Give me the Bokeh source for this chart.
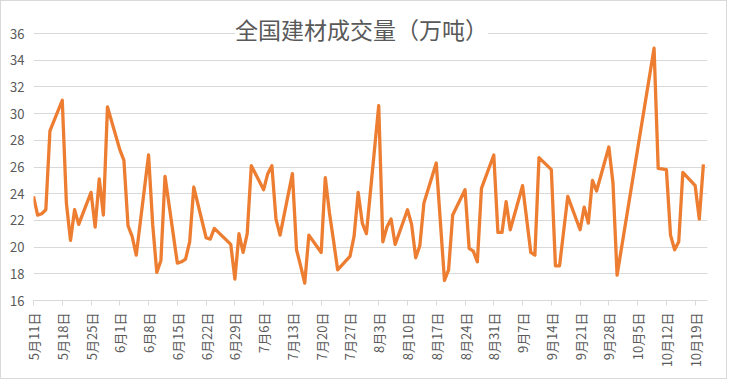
import pandas as pd
from bokeh.plotting import figure
from bokeh.models import (Range1d, FixedTicker, CustomJSTickFormatter, Label,
                          ColumnDataSource)
from bokeh.embed import file_html
from bokeh.resources import INLINE

title_text = "全国建材成交量（万吨）"

dates = [
    "2020-05-11", "2020-05-12", "2020-05-13", "2020-05-14", "2020-05-15",
    "2020-05-18", "2020-05-19", "2020-05-20", "2020-05-21", "2020-05-22",
    "2020-05-25", "2020-05-26", "2020-05-27", "2020-05-28", "2020-05-29",
    "2020-06-01", "2020-06-02", "2020-06-03", "2020-06-04", "2020-06-05",
    "2020-06-08", "2020-06-09", "2020-06-10", "2020-06-11", "2020-06-12",
    "2020-06-15", "2020-06-16", "2020-06-17", "2020-06-18", "2020-06-19",
    "2020-06-22", "2020-06-23", "2020-06-24", "2020-06-28",
    "2020-06-29", "2020-06-30", "2020-07-01", "2020-07-02", "2020-07-03",
    "2020-07-06", "2020-07-07", "2020-07-08", "2020-07-09", "2020-07-10",
    "2020-07-13", "2020-07-14", "2020-07-15", "2020-07-16", "2020-07-17",
    "2020-07-20", "2020-07-21", "2020-07-22", "2020-07-23", "2020-07-24",
    "2020-07-27", "2020-07-28", "2020-07-29", "2020-07-30", "2020-07-31",
    "2020-08-03", "2020-08-04", "2020-08-05", "2020-08-06", "2020-08-07",
    "2020-08-10", "2020-08-11", "2020-08-12", "2020-08-13", "2020-08-14",
    "2020-08-17", "2020-08-18", "2020-08-19", "2020-08-20", "2020-08-21",
    "2020-08-24", "2020-08-25", "2020-08-26", "2020-08-27", "2020-08-28",
    "2020-08-31", "2020-09-01", "2020-09-02", "2020-09-03", "2020-09-04",
    "2020-09-07", "2020-09-08", "2020-09-09", "2020-09-10", "2020-09-11",
    "2020-09-14", "2020-09-15", "2020-09-16", "2020-09-17", "2020-09-18",
    "2020-09-21", "2020-09-22", "2020-09-23", "2020-09-24", "2020-09-25",
    "2020-09-28", "2020-09-29", "2020-09-30",
    "2020-10-09", "2020-10-10",
    "2020-10-12", "2020-10-13", "2020-10-14", "2020-10-15", "2020-10-16",
    "2020-10-19", "2020-10-20", "2020-10-21",
]

values = [
    23.8, 22.4, 22.5, 22.8, 28.7,
    31.0, 23.3, 20.5, 22.8, 21.7,
    24.1, 21.5, 25.1, 22.4, 30.5,
    27.3, 26.5, 21.6, 20.8, 19.4,
    26.9, 21.7, 18.1, 19.0, 25.3,
    18.8, 18.9, 19.1, 20.4, 24.5,
    20.7, 20.6, 21.4, 20.2,
    17.6, 21.0, 19.6, 21.0, 26.1,
    24.3, 25.5, 26.1, 22.1, 20.9,
    25.5, 19.8, 18.6, 17.3, 20.9,
    19.6, 25.2, 22.6, 20.5, 18.3,
    19.3, 20.8, 24.1, 21.8, 21.0,
    30.6, 20.4, 21.5, 22.1, 20.2,
    22.8, 21.7, 19.2, 20.1, 23.3,
    26.3, 21.9, 17.5, 18.3, 22.4,
    24.3, 19.9, 19.7, 18.9, 24.4,
    26.9, 21.1, 21.1, 23.4, 21.3,
    24.6, 22.1, 19.6, 19.4, 26.7,
    25.8, 18.6, 18.6, 21.2, 23.8,
    21.3, 23.0, 21.8, 25.0, 24.2,
    27.5, 24.8, 17.9,
    34.9, 25.9,
    25.8, 20.9, 19.8, 20.4, 25.6,
    24.6, 22.1, 26.2,
]

tick_dates = [
    "2020-05-11", "2020-05-18", "2020-05-25", "2020-06-01", "2020-06-08",
    "2020-06-15", "2020-06-22", "2020-06-29", "2020-07-06", "2020-07-13",
    "2020-07-20", "2020-07-27", "2020-08-03", "2020-08-10", "2020-08-17",
    "2020-08-24", "2020-08-31", "2020-09-07", "2020-09-14", "2020-09-21",
    "2020-09-28", "2020-10-05", "2020-10-12", "2020-10-19",
]

y_ticks = [16, 18, 20, 22, 24, 26, 28, 30, 32, 34, 36]

x_start = "2020-05-11"
x_end = "2020-10-22"

FONT = "Noto Sans CJK SC"
TXT = "#595959"
GRID = "#d9d9d9"

src = ColumnDataSource(dict(x=pd.to_datetime(dates), y=values))

p = figure(width=727, height=379, output_backend="svg", toolbar_location=None,
           x_axis_type="datetime",
           x_range=Range1d(pd.Timestamp(x_start), pd.Timestamp(x_end)),
           y_range=Range1d(16, 16 + 299 / 13.35),
           min_border_left=32, min_border_right=21,
           min_border_top=0, min_border_bottom=80)
p.outline_line_color = None
p.background_fill_color = "white"
p.border_fill_color = "white"
p.styles = {"border": "1px solid #d9d9d9"}

p.line("x", "y", source=src, line_color="#ED7D31", line_width=3.3,
       line_join="round")

# x axis
p.xaxis.ticker = FixedTicker(ticks=[pd.Timestamp(d).value / 1e6 for d in tick_dates])
p.xaxis.formatter = CustomJSTickFormatter(code="""
const d = new Date(tick);
return (d.getUTCMonth() + 1) + "月" + d.getUTCDate() + "日";
""")
p.xaxis.major_label_orientation = 3.14159265 / 2
p.xaxis.axis_line_color = GRID
p.xaxis.major_tick_line_color = GRID
p.xaxis.major_tick_in = 0
p.xaxis.major_tick_out = 5
p.xaxis.minor_tick_line_color = None
p.xaxis.major_label_standoff = 7
p.xaxis.major_label_text_font = FONT
p.xaxis.major_label_text_font_size = "13px"
p.xaxis.major_label_text_color = TXT
p.xgrid.grid_line_color = None

# y axis
p.yaxis.ticker = FixedTicker(ticks=y_ticks)
p.yaxis.axis_line_color = None
p.yaxis.major_tick_line_color = None
p.yaxis.minor_tick_line_color = None
p.yaxis.major_tick_in = 0
p.yaxis.major_tick_out = 0
p.yaxis.major_label_standoff = 9
p.yaxis.major_label_text_font = FONT
p.yaxis.major_label_text_font_size = "13px"
p.yaxis.major_label_text_color = TXT
p.ygrid.grid_line_color = GRID
p.ygrid.grid_line_width = 1

# title drawn over the top gridline with white background
title = Label(x=328, y=272, x_units="screen", y_units="screen",
              text=title_text, text_align="center", text_baseline="middle",
              text_font=FONT, text_font_size="23px", text_color=TXT,
              background_fill_color="white")
p.add_layout(title)

open("out.html", "w").write(file_html(p, INLINE))
